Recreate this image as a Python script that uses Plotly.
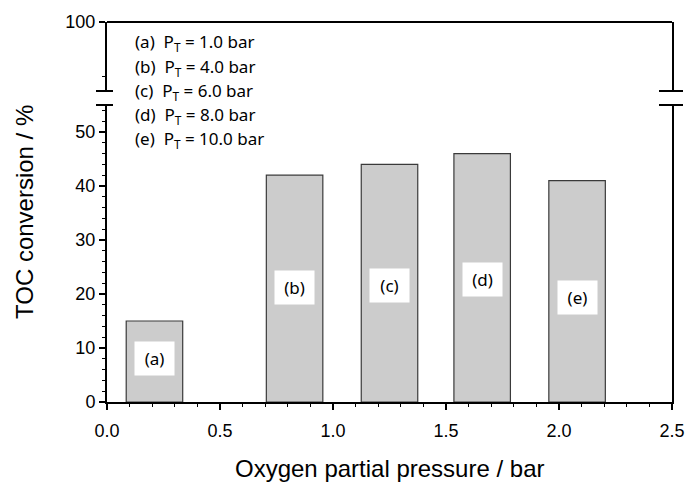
import plotly.graph_objects as go

# ---- data ----
letters = ["(a)", "(b)", "(c)", "(d)", "(e)"]
total_pressure = [1.0, 4.0, 6.0, 8.0, 10.0]          # bar
o2_pressure = [0.21, 0.83, 1.25, 1.66, 2.08]          # bar
toc_conversion = [15, 42, 44, 46, 41]                 # %
label_y = [8.1, 21.2, 21.6, 22.6, 19.3]               # height of the in-bar letter boxes
bar_width = 0.25

x_ticks = [0.0, 0.5, 1.0, 1.5, 2.0, 2.5]
y_ticks_low = [0, 10, 20, 30, 40, 50]
y_ticks_high = [100]
x_title = "Oxygen partial pressure / bar"
y_title = "TOC conversion / %"

# ---- layout geometry ----
W, H = 688, 482
ml, mr, mt, mb = 107, 16, 22, 80
plot_w = W - ml - mr
plot_h = H - mt - mb
low_top_px = 105
up_bot_px = 91
low_dom_top = (H - mb - low_top_px) / plot_h
up_dom_bot = (H - mb - up_bot_px) / plot_h
px_per_unit = (H - mb - low_top_px) / 55.0
up_lo = 100 - (up_bot_px - mt) / px_per_unit

AX = "Liberation Sans, Arial, sans-serif"
LBL = "Noto Sans, Open Sans, sans-serif"
PAD = "\u00a0\u00a0"

fig = go.Figure()
fig.add_trace(go.Bar(
    x=o2_pressure, y=toc_conversion, width=bar_width,
    marker=dict(color="#cccccc", line=dict(color="#3a3a3a", width=1.2)),
    showlegend=False, hoverinfo="x+y",
))
fig.add_trace(go.Scatter(x=[None], y=[None], yaxis="y2", showlegend=False))

fig.update_layout(
    width=W, height=H,
    margin=dict(l=ml, r=mr, t=mt, b=mb, autoexpand=False),
    plot_bgcolor="white", paper_bgcolor="white",
    xaxis=dict(
        range=[0, 2.5], tickvals=x_ticks, tickformat=".1f",
        showline=True, linecolor="black", linewidth=2,
        ticks="outside", ticklen=6, tickwidth=1.5, tickcolor="black",
        minor=dict(dtick=0.1, ticks="outside", ticklen=3, tickcolor="black", tickwidth=1),
        showgrid=False, zeroline=False, automargin=False,
        tickfont=dict(family=AX, size=18, color="black"),
        ticklabelstandoff=5,
        anchor="y",
    ),
    yaxis=dict(
        domain=[0, low_dom_top], range=[0, 55], tickvals=y_ticks_low,
        ticksuffix=PAD,
        showline=True, linecolor="black", linewidth=2, mirror=True,
        ticks="outside", ticklen=6, tickwidth=1.5, tickcolor="black",
        minor=dict(dtick=2, ticks="outside", ticklen=3, tickcolor="black", tickwidth=1),
        showgrid=False, zeroline=False, automargin=False,
        tickfont=dict(family=AX, size=18, color="black"),
    ),
    yaxis2=dict(
        domain=[up_dom_bot, 1], range=[up_lo, 100], tickvals=y_ticks_high,
        ticksuffix=PAD,
        showline=True, linecolor="black", linewidth=2, mirror=True,
        ticks="outside", ticklen=6, tickwidth=1.5, tickcolor="black",
        minor=dict(tickvals=[90], ticks="outside", ticklen=3, tickcolor="black", tickwidth=1),
        showgrid=False, zeroline=False, automargin=False,
        tickfont=dict(family=AX, size=18, color="black"),
        anchor="x",
    ),
)

shapes = [
    dict(type="line", xref="paper", yref="paper", x0=0, x1=1, y0=1, y1=1,
         line=dict(color="black", width=2)),
]
for yb in (low_dom_top, up_dom_bot):
    shapes.append(dict(type="line", xref="paper", yref="paper",
                       x0=-11 / plot_w, x1=6 / plot_w,
                       y0=yb, y1=yb, line=dict(color="black", width=2)))
    shapes.append(dict(type="line", xref="paper", yref="paper",
                       x0=1 - 13 / plot_w, x1=1 + 11 / plot_w,
                       y0=yb, y1=yb, line=dict(color="black", width=2)))
fig.update_layout(shapes=shapes)

ann = [
    dict(text=x_title, xref="paper", yref="paper", x=0.5, y=-(468 - (H - mb)) / plot_h,
         xanchor="center", yanchor="middle", showarrow=False,
         font=dict(family=AX, size=24, color="black")),
    dict(text=y_title, xref="paper", yref="paper", x=(24 - ml) / plot_w, y=0.5,
         xanchor="center", yanchor="middle", textangle=-90, showarrow=False,
         font=dict(family=AX, size=24, color="black")),
]
for xv, yv, t in zip(o2_pressure, label_y, letters):
    ann.append(dict(x=xv, y=yv, xref="x", yref="y", text=t, showarrow=False,
                    font=dict(family=LBL, size=17, color="black"),
                    bgcolor="white", borderpad=7, width=25, height=19))
legend_px = [43, 67, 91, 115, 139]
for i, (t, p) in enumerate(zip(letters, total_pressure)):
    ann.append(dict(x=(133 - ml) / plot_w, y=(H - mb - legend_px[i]) / plot_h,
                    xref="paper", yref="paper", xanchor="left", yanchor="middle",
                    text=f"{t}\u00a0\u00a0P<sub>T</sub> = {p:.1f} bar", showarrow=False,
                    font=dict(family=LBL, size=17, color="black")))
fig.update_layout(annotations=ann)

fig.write_html(
    "out.html",
    config={"displayModeBar": False},
    post_script="document.body.style.margin='0px';document.body.style.overflow='hidden';",
)
